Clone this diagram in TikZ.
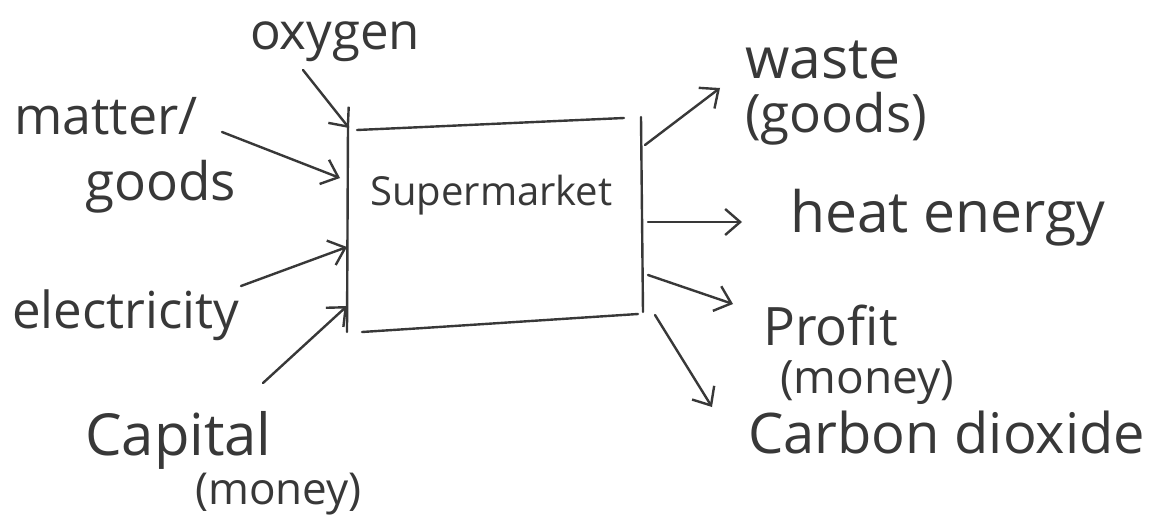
\documentclass[tikz,border=0pt]{standalone}
\usepackage{fontspec}
\setmainfont{Open Sans}
\usetikzlibrary{arrows.meta}
\definecolor{inkc}{HTML}{383838}
\newcommand\lblsz[1]{\fontsize{#1}{#1}\selectfont}
\begin{document}
\begin{tikzpicture}[x=1pt,y=-1pt,
  ink/.style={draw=inkc,line width=2.4pt,line cap=round},
  flow/.style={ink,-{Straight Barb[length=15pt,width=26pt]}},
  lbl/.style={anchor=base west,inner sep=0pt,text=inkc}]
\useasboundingbox[fill=white] (0,0) rectangle (1160,519);

% box corners (hand-drawn sides)
\coordinate (topL) at (357,130);
\coordinate (topR) at (624,118);
\coordinate (leftT) at (348,126);
\coordinate (leftB) at (347,332);
\coordinate (rightT) at (641,117);
\coordinate (rightB) at (643,312);
\coordinate (botL) at (362,332);
\coordinate (botR) at (638,314);
\draw[ink] (topL) -- (topR);
\draw[ink] (leftT) -- (leftB);
\draw[ink] (rightT) -- (rightB);
\draw[ink] (botL) -- (botR);

\node[lbl] (sm) at (370,205) {\lblsz{40}Supermarket};

% input labels
\node[lbl] (oxygen) at (250,50) {\lblsz{51}oxygen};
\node[lbl] (matter) at (14,135) {\lblsz{52}matter/};
\node[lbl] (goods) at (85,200) {\lblsz{53}goods};
\node[lbl] (elec) at (12,328) {\lblsz{51}electricity};
\node[lbl] (capital) at (85,455) {\lblsz{58}Capital};
\node[lbl] (money1) at (195,504) {\lblsz{44}(money)};

% output labels
\node[lbl] (waste) at (745,78) {\lblsz{57}waste};
\node[lbl] (wgoods) at (745,132) {\lblsz{53}(goods)};
\node[lbl] (heat) at (790,232) {\lblsz{57}heat energy};
\node[lbl] (profit) at (763,345) {\lblsz{53}Profit};
\node[lbl] (money2) at (780,393) {\lblsz{46}(money)};
\node[lbl] (co2) at (748,453) {\lblsz{56}Carbon dioxide};

% arrow end points
\coordinate (oxA) at (303,70);   \coordinate (oxB) at (349,128);
\coordinate (maA) at (222,132);  \coordinate (maB) at (340,178);
\coordinate (elA) at (241,286);  \coordinate (elB) at (347,247);
\coordinate (caA) at (263,383);  \coordinate (caB) at (347,306);
\coordinate (waA) at (645,145);  \coordinate (waB) at (720,88);
\coordinate (heA) at (648,222);  \coordinate (heB) at (742,222);
\coordinate (prA) at (648,275);  \coordinate (prB) at (733,304);
\coordinate (coA) at (655,315);  \coordinate (coB) at (712,407);

\draw[flow] (oxA) -- (oxB);
\draw[flow] (maA) -- (maB);
\draw[flow] (elA) -- (elB);
\draw[flow] (caA) -- (caB);
\draw[flow] (waA) -- (waB);
\draw[flow] (heA) -- (heB);
\draw[flow] (prA) -- (prB);
\draw[flow] (coA) -- (coB);
\end{tikzpicture}
\end{document}
